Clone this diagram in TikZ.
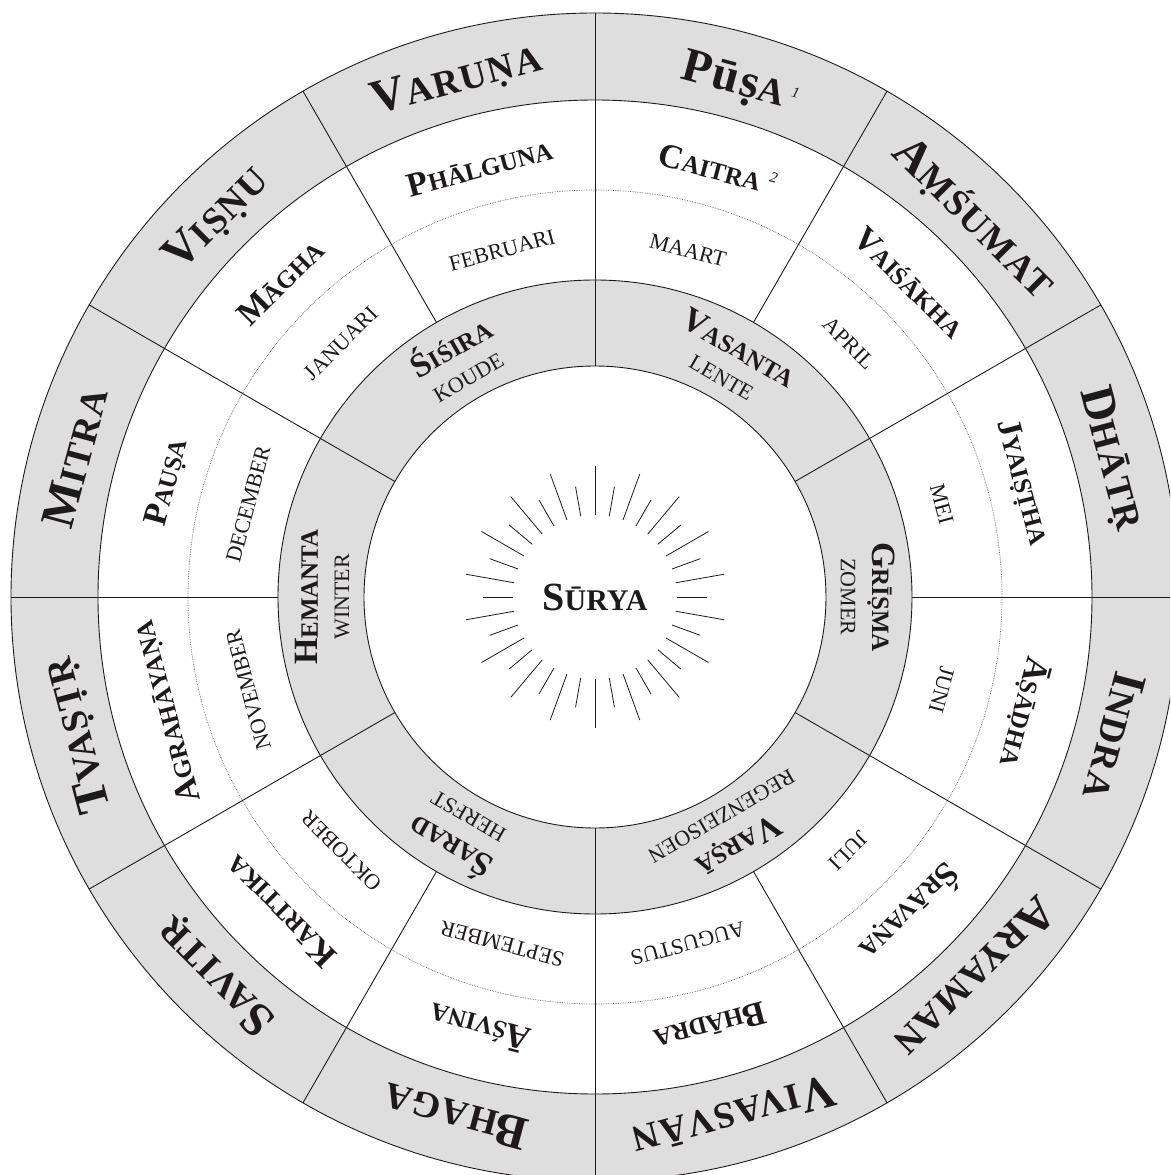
\documentclass[tikz,border=0pt]{standalone}
\usepackage{fontspec}
\setmainfont{Liberation Serif}
\definecolor{ringgray}{RGB}{222,222,222}
\definecolor{ink}{RGB}{30,26,27}
\newcommand\GodSC[2]{{\fontsize{48}{48}\selectfont #1}{\fontsize{37}{37}\selectfont #2}}
\newcommand\MonSC[2]{{\fontsize{34}{34}\selectfont #1}{\fontsize{25}{25}\selectfont #2}}
\newcommand\SunSC[2]{{\fontsize{40}{40}\selectfont #1}{\fontsize{30}{30}\selectfont #2}}
\newcommand\SupNum[2]{\rlap{\hspace{#2}\smash{\raisebox{12pt}{\fontsize{15}{15}\selectfont\mdseries\itshape #1}}}}
\newcommand\PlaceText[5]{\node[#4,rotate={-(#3)}] (#1) at ({90-(#3)}:#2) {#5};}
\begin{document}
\begin{tikzpicture}[x=1pt,y=1pt,
  godtext/.style={font=\bfseries\addfontfeatures{LetterSpace=4}, text=ink, inner sep=0pt, text height=31pt, text depth=0pt},
  montext/.style={font=\bfseries, text=ink, inner sep=0pt, text height=22pt, text depth=0pt},
  dutchtext/.style={font=\fontsize{22}{22}\selectfont, text=ink, inner sep=0pt, text height=14.5pt, text depth=0pt},
  ringline/.style={draw=ink, line width=0.9pt},
  ray/.style={draw=ink, line width=0.8pt}]
\useasboundingbox (-595,-578) rectangle (575,597);
\clip (-595,-578) rectangle (575,597);
% rings
\fill[ringgray] (0,0) circle[radius=584];
\fill[white] (0,0) circle[radius=497];
\fill[ringgray] (0,0) circle[radius=317];
\fill[white] (0,0) circle[radius=231];
\foreach \r in {584,497,317,231} \draw[ringline] (0,0) circle[radius=\r];
\draw[black!60, line width=0.7pt, densely dotted] (0,0) circle[radius=407];
% dividers
\foreach \k in {0,...,11} \draw[ringline] ({90-30*\k}:317) -- ({90-30*\k}:584);
\foreach \k in {0,...,5} \draw[ringline] ({90-60*\k}:231) -- ({90-60*\k}:317);
% sun rays
\foreach \k in {0,...,35} {
  \pgfmathsetmacro\rr{ifthenelse(isodd(\k),112,131)}
  \draw[ray] ({90-10*\k}:82) -- ({90-10*\k}:\rr);
}
\node[font=\bfseries, text=ink, inner sep=0pt, text height=26pt, text depth=0pt] (surya) at (0,0) {\SunSC{S}{ŪRYA}};
% gods
\PlaceText{g1}{538}{15}{godtext}{{\fontsize{48}{48}\selectfont Pūṣ}{\fontsize{37}{37}\selectfont A}\SupNum{1}{7pt}}
\PlaceText{g2}{538}{45}{godtext}{\GodSC{A}{ṂŚUMAT}}
\PlaceText{g3}{538}{75}{godtext}{\GodSC{D}{HĀTṚ}}
\PlaceText{g4}{538}{105}{godtext}{\GodSC{I}{NDRA}}
\PlaceText{g5}{538}{135}{godtext}{\GodSC{A}{RYAMAN}}
\PlaceText{g6}{538}{165}{godtext}{\GodSC{V}{IVASVĀN}}
\PlaceText{g7}{538}{195}{godtext}{\GodSC{B}{HAGA}}
\PlaceText{g8}{538}{225}{godtext}{\GodSC{S}{AVITṚ}}
\PlaceText{g9}{538}{255}{godtext}{\GodSC{T}{VAṢṬṚ}}
\PlaceText{g10}{538}{285}{godtext}{\GodSC{M}{ITRA}}
\PlaceText{g11}{538}{315}{godtext}{\GodSC{V}{IṢṆU}}
\PlaceText{g12}{538}{345}{godtext}{\GodSC{V}{ARUṆA}}
% sanskrit months
\PlaceText{m1}{445}{15}{montext}{\MonSC{C}{AITRA}\SupNum{2}{8pt}}
\PlaceText{m2}{445}{45}{montext}{\MonSC{V}{AIŚĀKHA}}
\PlaceText{m3}{445}{75}{montext}{\MonSC{J}{YAIṢṬHA}}
\PlaceText{m4}{445}{105}{montext}{\MonSC{Ā}{ṢĀḌHA}}
\PlaceText{m5}{445}{135}{montext}{\MonSC{Ś}{RĀVAṆA}}
\PlaceText{m6}{445}{165}{montext}{\MonSC{B}{HĀDRA}}
\PlaceText{m7}{445}{195}{montext}{\MonSC{Ā}{ŚVINA}}
\PlaceText{m8}{445}{225}{montext}{\MonSC{K}{ĀRTTIKA}}
\PlaceText{m9}{445}{255}{montext}{\MonSC{A}{GRAHĀYAṆA}}
\PlaceText{m10}{445}{285}{montext}{\MonSC{P}{AUṢA}}
\PlaceText{m11}{445}{315}{montext}{\MonSC{M}{ĀGHA}}
\PlaceText{m12}{445}{345}{montext}{\MonSC{P}{HĀLGUNA}}
% dutch months
\PlaceText{d1}{359}{15}{dutchtext}{MAART}
\PlaceText{d2}{359}{45}{dutchtext}{APRIL}
\PlaceText{d3}{359}{75}{dutchtext}{MEI}
\PlaceText{d4}{359}{105}{dutchtext}{JUNI}
\PlaceText{d5}{359}{135}{dutchtext}{JULI}
\PlaceText{d6}{359}{165}{dutchtext}{AUGUSTUS}
\PlaceText{d7}{359}{195}{dutchtext}{SEPTEMBER}
\PlaceText{d8}{359}{225}{dutchtext}{OKTOBER}
\PlaceText{d9}{359}{255}{dutchtext}{NOVEMBER}
\PlaceText{d10}{359}{285}{dutchtext}{DECEMBER}
\PlaceText{d11}{359}{315}{dutchtext}{JANUARI}
\PlaceText{d12}{359}{345}{dutchtext}{FEBRUARI}
% seasons
\PlaceText{s1}{288}{30}{montext}{\MonSC{V}{ASANTA}}
\PlaceText{s2}{288}{90}{montext}{\MonSC{G}{RĪṢMA}}
\PlaceText{s3}{288}{150}{montext}{\MonSC{V}{ARṢĀ}}
\PlaceText{s4}{288}{210}{montext}{\MonSC{Ś}{ARAD}}
\PlaceText{s5}{288}{270}{montext}{\MonSC{H}{EMANTA}}
\PlaceText{s6}{288}{330}{montext}{\MonSC{Ś}{IŚIRA}}
\PlaceText{t1}{253}{30}{dutchtext}{LENTE}
\PlaceText{t2}{253}{90}{dutchtext}{ZOMER}
\PlaceText{t3}{253}{150}{dutchtext}{REGENZEISOEN}
\PlaceText{t4}{253}{210}{dutchtext}{HERFST}
\PlaceText{t5}{253}{270}{dutchtext}{WINTER}
\PlaceText{t6}{253}{330}{dutchtext}{KOUDE}
\end{tikzpicture}
\end{document}
